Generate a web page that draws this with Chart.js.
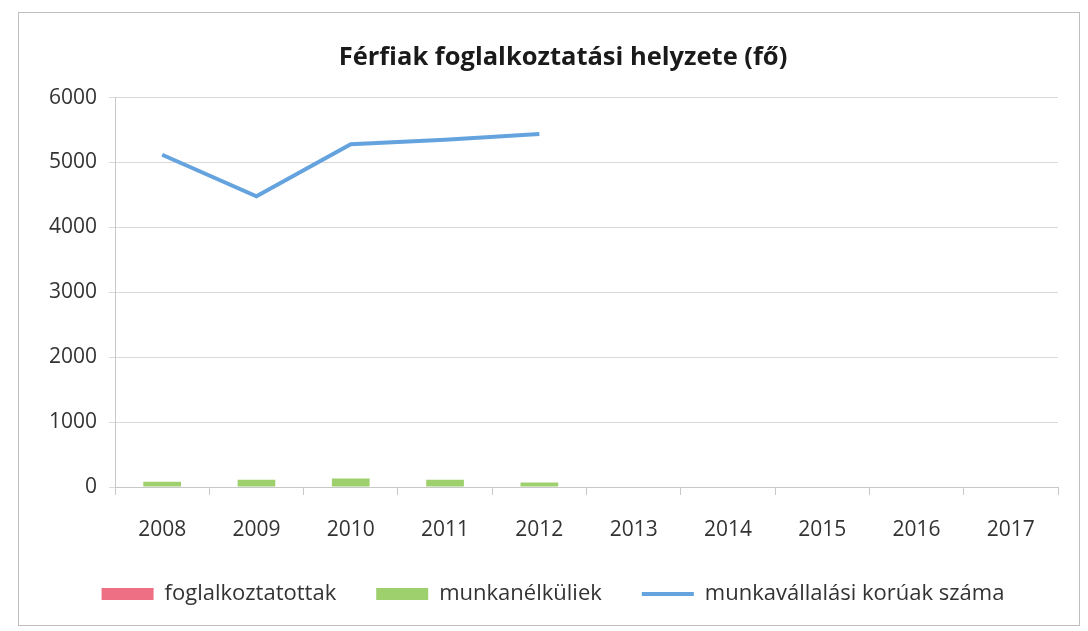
<!DOCTYPE html>
<html>
<head>
<meta charset="utf-8">
<script src="https://cdn.jsdelivr.net/npm/chart.js@4/dist/chart.umd.min.js"></script>
<style>
  html, body { margin: 0; padding: 0; background: #ffffff; }
  #wrap { position: absolute; left: 0; top: 0; width: 1088px; height: 631px; }
  #frame { position: absolute; left: 18px; top: 12px; width: 1062px; height: 614px; border: 1px solid #bfbfbf; box-sizing: border-box; pointer-events: none; }
</style>
</head>
<body>
<div id="wrap">
  <canvas id="c" width="1088" height="631"></canvas>
  <div id="frame"></div>
</div>
<script>
const categories = ['2008', '2009', '2010', '2011', '2012', '2013', '2014', '2015', '2016', '2017'];
const foglalkoztatottak = [null, null, null, null, null, null, null, null, null, null];
const munkanelkuliek = [80, 110, 130, 110, 70, null, null, null, null, null];
const munkavallalasiKoruak = [5120, 4480, 5280, 5350, 5440, null, null, null, null, null];
const yTicks = [0, 1000, 2000, 3000, 4000, 5000, 6000];

const FONT = '"Open Sans", Lato, sans-serif';

const shiftBlocks = {
  id: 'shiftBlocks',
  afterLayout(chart) {
    if (chart.titleBlock) { chart.titleBlock.left += 24; chart.titleBlock.right += 24; }
    if (chart.legend) { chart.legend.left += 14; chart.legend.right += 14; }
  }
};

new Chart(document.getElementById('c'), {
  plugins: [shiftBlocks],
  data: {
    labels: categories,
    datasets: [
      {
        type: 'bar', label: 'foglalkoztatottak', data: foglalkoztatottak,
        backgroundColor: '#ee6f83', grouped: false,
        barPercentage: 0.5, categoryPercentage: 0.8, order: 2
      },
      {
        type: 'bar', label: 'munkanélküliek', data: munkanelkuliek,
        backgroundColor: '#9fd06e', grouped: false,
        barPercentage: 0.5, categoryPercentage: 0.8, order: 2
      },
      {
        type: 'line', label: 'munkavállalási korúak száma', data: munkavallalasiKoruak,
        borderColor: '#64a3dd', backgroundColor: '#64a3dd', borderWidth: 4,
        pointRadius: 0, tension: 0, fill: false, order: 1
      }
    ]
  },
  options: {
    responsive: false,
    animation: false,
    layout: { padding: { left: 20, right: 30, top: 30, bottom: 16 } },
    plugins: {
      title: {
        display: true,
        text: 'Férfiak foglalkoztatási helyzete (fő)',
        color: '#1a1a1a',
        font: { family: FONT, size: 25.5, weight: 'bold' },
        padding: { top: 12, bottom: 25 }
      },
      legend: {
        position: 'bottom',
        labels: {
          color: '#333333',
          font: { family: FONT, size: 22 },
          usePointStyle: true,
          pointStyleWidth: 52,
          boxHeight: 12,
          padding: 40,
          generateLabels(chart) {
            return chart.data.datasets.map((ds, i) => ({
              text: ds.label,
              fillStyle: ds.backgroundColor,
              strokeStyle: ds.type === 'line' ? ds.borderColor : ds.backgroundColor,
              lineWidth: ds.type === 'line' ? 4 : 0,
              pointStyle: ds.type === 'line' ? 'line' : 'rect',
              datasetIndex: i,
              hidden: false,
              fontColor: '#333333'
            }));
          }
        }
      },
      tooltip: { enabled: false }
    },
    scales: {
      x: {
        offset: true,
        grid: { offset: true, drawOnChartArea: false, drawTicks: true, tickLength: 8, color: '#c8c8c8' },
        border: { color: '#c8c8c8' },
        ticks: { color: '#333333', font: { family: FONT, size: 21 }, padding: 22 },
        afterFit(scale) { scale.height = 56; }
      },
      y: {
        min: 0, max: 6000,
        afterBuildTicks(scale) { scale.ticks = yTicks.map(v => ({ value: v })); },
        grid: { color: '#d9d9d9', tickLength: 6 },
        border: { color: '#c8c8c8' },
        ticks: { color: '#333333', font: { family: FONT, size: 21 }, padding: 12, callback: v => String(v) },
        afterFit(scale) { scale.width = 95; }
      }
    }
  }
});
</script>
</body>
</html>
